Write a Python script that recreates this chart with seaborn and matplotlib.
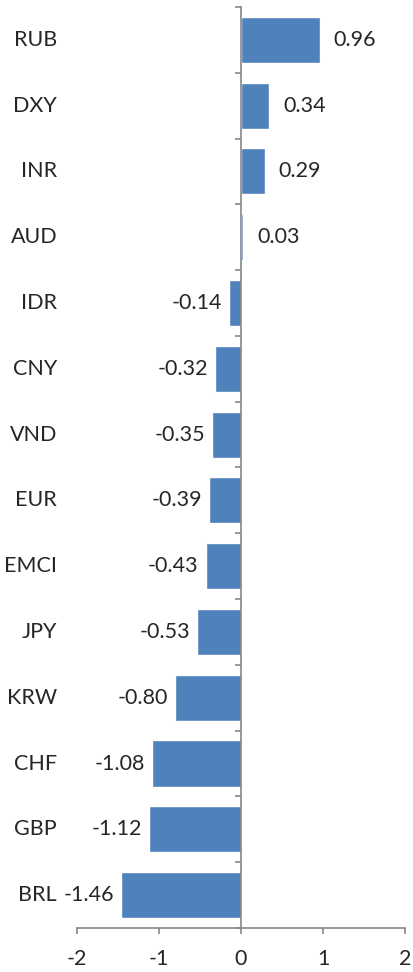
import matplotlib; matplotlib.use('Agg')
import matplotlib.pyplot as plt
import matplotlib.transforms as mtransforms
import numpy as np
import seaborn as sns

# ─── Data ───
currencies = ["RUB", "DXY", "INR", "AUD", "IDR", "CNY", "VND", "EUR",
              "EMCI", "JPY", "KRW", "CHF", "GBP", "BRL"]
changes = [0.96, 0.34, 0.29, 0.03, -0.14, -0.32, -0.35, -0.39,
           -0.43, -0.53, -0.80, -1.08, -1.12, -1.46]

BLUE = '#4F81BD'
GREY = '#868686'
TXT = '#262626'

sns.set_style('white')
plt.rcParams['font.family'] = ['Lato', 'DejaVu Sans']

fig = plt.figure(figsize=(4.13, 9.72), dpi=100)
ax = fig.add_axes([0.186, 0.0453, 0.795, 0.9475])

sns.barplot(x=changes, y=currencies, orient='h', color=BLUE, saturation=1,
            width=0.7, ax=ax)

ax.set_xlim(-2, 2)
ax.set_ylim(len(currencies) - 0.5, -0.5)
ax.set_xticks([-2, -1, 0, 1, 2])
ax.set_xticklabels(['-2', '-1', '0', '1', '2'], fontsize=15.5, color=TXT)
ax.tick_params(axis='x', direction='out', length=4, width=1.2, color=GREY,
               bottom=True, pad=11)

# category axis sits at zero
ax.spines['left'].set_position(('data', 0))
for s in ['top', 'right']:
    ax.spines[s].set_visible(False)
for s in ['left', 'bottom']:
    ax.spines[s].set_color(GREY)
    ax.spines[s].set_linewidth(1.2)
ax.set_yticks(np.arange(len(currencies) + 1) - 0.5, minor=True)
ax.set_yticks([])
ax.tick_params(axis='y', which='minor', direction='out', length=4, width=1.2,
               color=GREY, left=True)

# category names at the left edge
trans = mtransforms.blended_transform_factory(ax.transAxes, ax.transData)
for i, name in enumerate(currencies):
    ax.text(-0.06, i, name, transform=trans, ha='right', va='center',
            fontsize=15.5, color=TXT)

# value labels
for i, v in enumerate(changes):
    if v >= 0:
        ax.annotate(f'{v:.2f}', (v, i), xytext=(14, 0), textcoords='offset pixels',
                    ha='left', va='center', fontsize=15.5, color=TXT)
    else:
        ax.annotate(f'{v:.2f}', (v, i), xytext=(-7, 0), textcoords='offset pixels',
                    ha='right', va='center', fontsize=15.5, color=TXT)

ax.set_xlabel('')
ax.set_ylabel('')
plt.savefig('out.png', dpi=100)
